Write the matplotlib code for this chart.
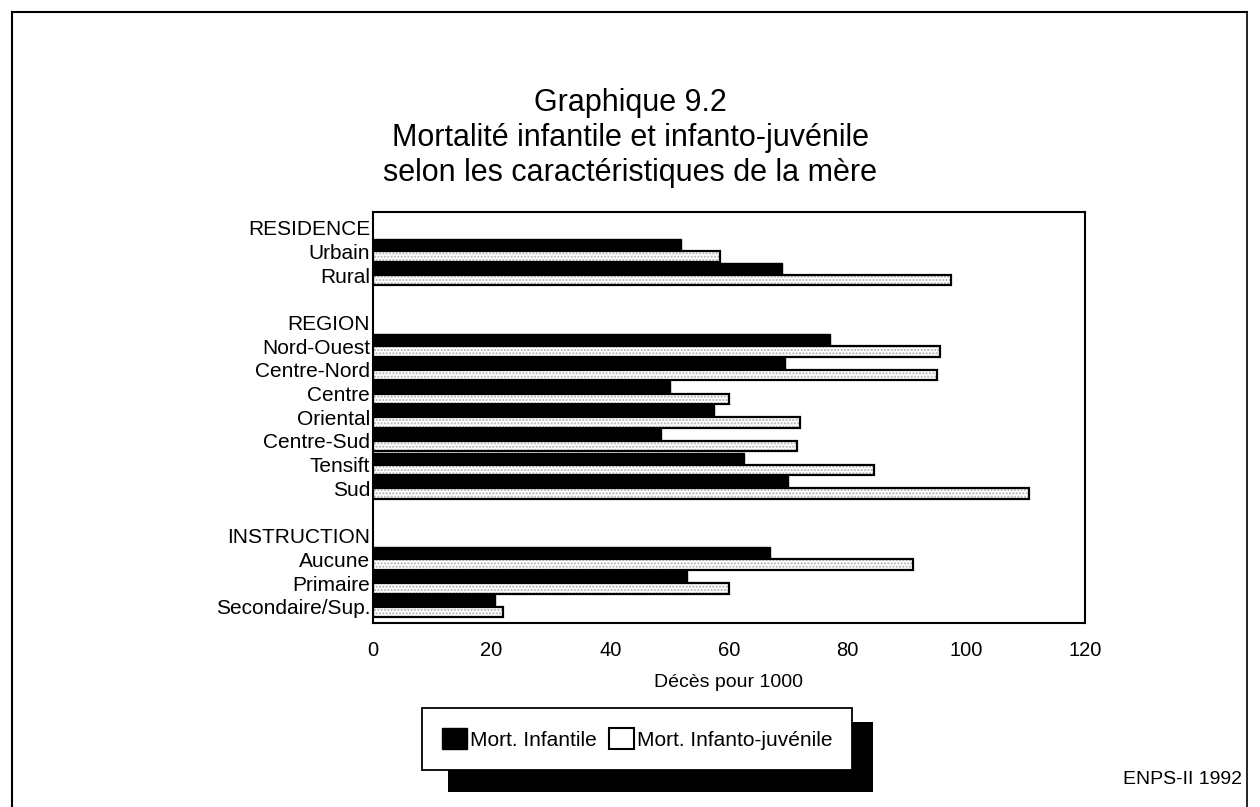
import numpy as np
import matplotlib.pyplot as plt
from matplotlib.patches import Patch, Rectangle
from matplotlib.lines import Line2D

plt.rcParams['font.family'] = ['Liberation Sans', 'DejaVu Sans']

# Data (deces pour 1000), None = header / blank row
labels = ["RESIDENCE", "Urbain", "Rural", "",
          "REGION", "Nord-Ouest", "Centre-Nord", "Centre", "Oriental",
          "Centre-Sud", "Tensift", "Sud", "",
          "INSTRUCTION", "Aucune", "Primaire", "Secondaire/Sup."]
infantile = [None, 52, 69, None,
             None, 77, 69.5, 50, 57.5, 48.5, 62.5, 70, None,
             None, 67, 53, 20.5]
juvenile = [None, 58.5, 97.5, None,
            None, 95.5, 95, 60, 72, 71.5, 84.5, 110.5, None,
            None, 91, 60, 22]
xticks = [0, 20, 40, 60, 80, 100, 120]

fig = plt.figure(figsize=(12.6, 8.07), dpi=100)
ax = fig.add_axes([0.296, 0.228, 0.565, 0.509])

pos = np.arange(len(labels))
for i in pos:
    if infantile[i] is not None:
        ax.barh(i - 0.25, infantile[i], height=0.52, color='black', edgecolor='black', linewidth=1)
    if juvenile[i] is not None:
        # dotted fill then black outline
        ax.barh(i + 0.22, juvenile[i], height=0.44, color='white', edgecolor='#b0b0b0',
                hatch='.....', linewidth=0)
        ax.barh(i + 0.22, juvenile[i], height=0.44, fill=False, edgecolor='black', linewidth=1.6)

ax.set_ylim(len(labels) - 0.32, -0.65)
ax.set_xlim(0, 120)
ax.set_xticks(xticks)
ax.set_xticklabels([str(t) for t in xticks], fontsize=14.5)
ax.set_yticks(pos)
ax.set_yticklabels(labels, fontsize=15)
ax.tick_params(axis='both', length=0)
ax.tick_params(axis='y', pad=2)
ax.tick_params(axis='x', pad=13)
for s in ax.spines.values():
    s.set_linewidth(1.5)
ax.set_xlabel("Décès pour 1000", fontsize=14, labelpad=10)

fig.text(0.5, 0.829, "Graphique 9.2\nMortalité infantile et infanto-juvénile\nselon les caractéristiques de la mère",
         ha='center', va='center', fontsize=22, linespacing=1.2)

# legend with black drop shadow
fig.add_artist(Rectangle((448 / 1260, 1 - 792 / 807), 425 / 1260, 70 / 807,
                         transform=fig.transFigure, facecolor='black', edgecolor='none', zorder=1))
handles = [Patch(facecolor='black', edgecolor='black', label='Mort. Infantile'),
           Patch(facecolor='white', edgecolor='black', linewidth=1.5, label='Mort. Infanto-juvénile')]
leg = fig.legend(handles=handles, loc='center', ncol=2, fontsize=15, frameon=True, fancybox=False,
                 framealpha=1, facecolor='white',
                 bbox_to_anchor=(0.5056, 0.0843), handlelength=1.2, handleheight=1.2,
                 handletextpad=0.15, columnspacing=0.6, borderpad=0.95, borderaxespad=0)
leg.get_frame().set_edgecolor('black')
leg.get_frame().set_linewidth(1.3)
leg.set_zorder(5)

fig.text(0.986, 0.034, "ENPS-II 1992", ha='right', va='center', fontsize=14)

# page border
fig.add_artist(Line2D([0.0095, 0.99], [0.985, 0.985], color='black', linewidth=1.5, transform=fig.transFigure))
fig.add_artist(Line2D([0.0095, 0.0095], [0.0, 0.985], color='black', linewidth=1.5, transform=fig.transFigure))
fig.add_artist(Line2D([0.99, 0.99], [0.0, 0.985], color='black', linewidth=1.2, transform=fig.transFigure))

fig.savefig("out.png", dpi=100)
